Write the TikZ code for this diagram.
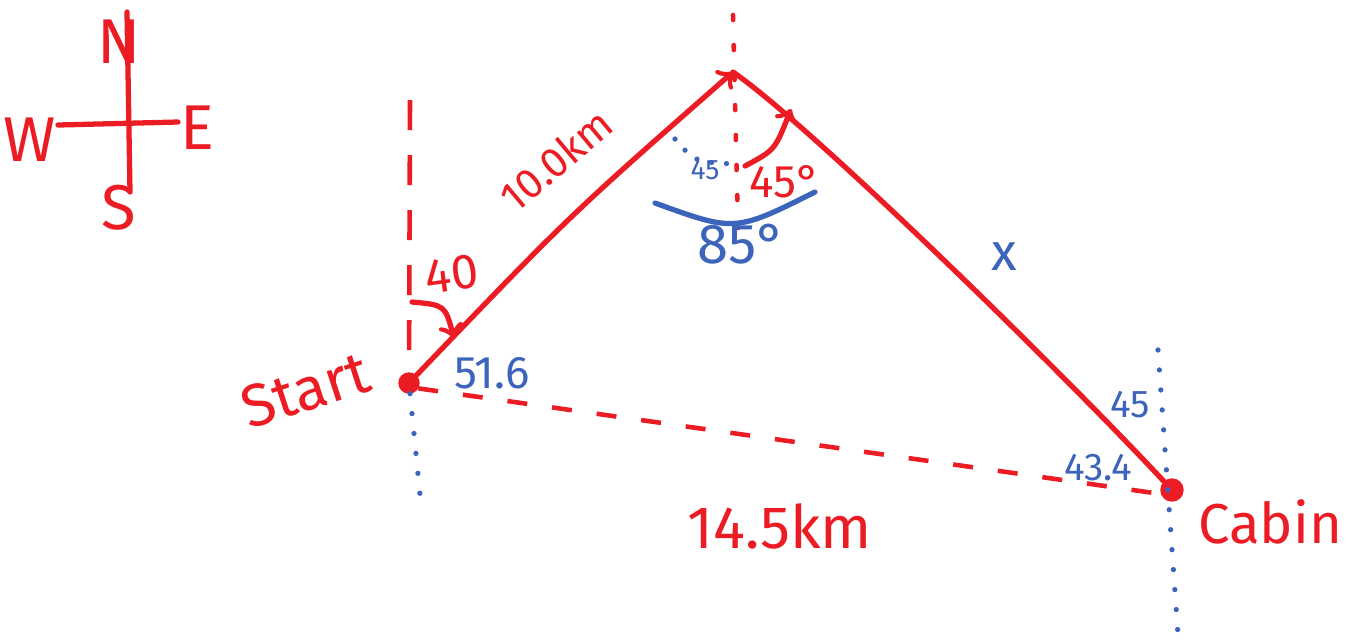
\documentclass[tikz,border=0pt]{standalone}
\usepackage{fontspec}
\setmainfont{Fira Sans}
\definecolor{pen}{HTML}{EC1C24}
\definecolor{ink}{HTML}{3B64BA}
\tikzset{
  redline/.style={draw=pen, line width=1.5pt, line cap=round},
  blueline/.style={draw=ink, line width=1.5pt, line cap=round},
  reddash/.style={draw=pen, line width=1.3pt, dash pattern=on 0.3cm off 0.25cm},
  reddot/.style={draw=pen, line width=1.3pt, line cap=round, dash pattern=on 0.05cm off 0.25cm},
  bluedot/.style={draw=ink, line width=1.5pt, line cap=round, dash pattern=on 0pt off 0.2cm},
  redtext/.style={text=pen, inner sep=0pt},
  bluetext/.style={text=ink, inner sep=0pt},
  spot/.style={circle, fill=pen, draw=pen, inner sep=0pt, minimum size=0.2cm},
}
\begin{document}
\begin{tikzpicture}[x=0.01cm,y=-0.01cm]
\useasboundingbox (0,0) rectangle (1348,641);

\coordinate (cN) at (127,12);
\coordinate (cS) at (130,192);
\coordinate (cW) at (58,125);
\coordinate (cE) at (178,122);
\draw[redline] (cN) -- (cS);
\draw[redline] (cW) -- (cE);
\node (N) at (119,42) [redtext, font=\fontsize{18}{20}\selectfont]{N};
\node (S) at (119,208) [redtext, font=\fontsize{18}{20}\selectfont]{S};
\node (W) at (30,140) [redtext, font=\fontsize{18}{20}\selectfont]{W};
\node (E) at (197,128) [redtext, font=\fontsize{18}{20}\selectfont]{E};

\node (start) at (409,383) [spot]{};
\node (cabin) at (1172,490) [spot, minimum size=0.22cm]{};
\coordinate (peak) at (733,72);

\coordinate (startN) at (410,100);
\coordinate (startS) at (421,505);
\draw[reddash] (startN) -- (start);
\draw[bluedot] (start) -- (startS);

\coordinate (peakN) at (733,15);
\coordinate (peakS) at (738,228);
\draw[reddot] (peakN) -- (peakS);

\coordinate (cabinN) at (1158,350);
\coordinate (cabinS) at (1178,635);
\draw[bluedot] (cabinN) -- (cabinS);

\draw[redline,->] (start) .. controls (570,215) .. (peak);
\draw[redline] (peak) .. controls (810,125) and (1060,370) .. (cabin);
\draw[reddash, dash pattern=on 0.2cm off 0.25cm] (start.-30) -- (cabin.200);

\coordinate (a40s) at (412,302);
\coordinate (a40e) at (454,338);
\draw[redline,->] (a40s) .. controls (445,305) .. (a40e);

\coordinate (a45s) at (745,166);
\coordinate (a45e) at (791,109);
\draw[redline,->] (a45s) .. controls (775,150) .. (a45e);

\coordinate (b45s) at (675,139);
\coordinate (b45e) at (735,164);
\draw[bluedot, dash pattern=on 0pt off 0.15cm] (b45s) .. controls (695,162) .. (b45e);

\coordinate (b85s) at (655,203);
\coordinate (b85e) at (815,192);
\draw[blueline] (b85s) .. controls (735,232) .. (b85e);

\node (start label) at (305,390) [redtext, rotate=18, font=\fontsize{17}{19}\selectfont]{Start};
\node (cabin label) at (1270,522) [redtext, font=\fontsize{16}{18}\selectfont]{Cabin};
\node (leg1) at (556,160) [redtext, rotate=40, font=\fontsize{12}{14}\selectfont]{10.0km};
\node (leg2) at (1004,257) [bluetext, font=\fontsize{15}{17}\selectfont]{x};
\node (base) at (780,526) [redtext, font=\fontsize{17}{19}\selectfont]{14.5km};
\node (ang40) at (452,274) [redtext, rotate=8, font=\fontsize{14}{16}\selectfont]{40};
\node (ang516) at (492,373) [bluetext, font=\fontsize{13}{15}\selectfont]{51.6};
\node (ang45l) at (705,170) [bluetext, font=\fontsize{8}{9}\selectfont]{45};
\node (ang45r) at (785,182) [redtext, font=\fontsize{13}{15}\selectfont]{45°};
\node (ang85) at (742,244) [bluetext, font=\fontsize{16}{18}\selectfont]{85°};
\node (ang45c) at (1130,405) [bluetext, font=\fontsize{11}{13}\selectfont]{45};
\node (ang434) at (1098,468) [bluetext, font=\fontsize{11}{13}\selectfont]{43.4};
\end{tikzpicture}
\end{document}
